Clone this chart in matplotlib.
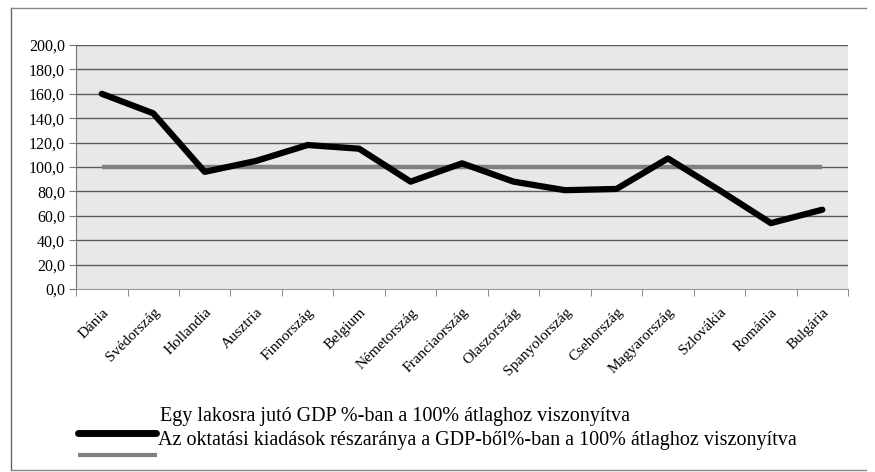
import numpy as np
import matplotlib
matplotlib.use('Agg')
import matplotlib.pyplot as plt
from matplotlib.lines import Line2D

plt.rcParams['font.family'] = ['Liberation Serif', 'DejaVu Serif']

orszagok = ['Dánia', 'Svédország', 'Hollandia', 'Ausztria', 'Finnország', 'Belgium',
            'Németország', 'Franciaország', 'Olaszország', 'Spanyolország', 'Csehország',
            'Magyarország', 'Szlovákia', 'Románia', 'Bulgária']
gdp = [160, 144, 96, 105, 118, 115, 88, 103, 88, 81, 82, 107, 81, 54, 65]
oktatas = [100] * len(orszagok)
yticks = [0, 20, 40, 60, 80, 100, 120, 140, 160, 180, 200]

fig = plt.figure(figsize=(8.75, 4.72), dpi=100)
ax = fig.add_axes([0.0869, 0.3877, 0.8823, 0.5170])
ax.set_facecolor('#e8e8e8')

x = np.arange(len(orszagok))
for v in yticks[1:]:
    ax.axhline(v, color='#5a5a5a', lw=1.0, zorder=1)
ax.plot(x, oktatas, color='#808080', lw=3.2, zorder=2, solid_capstyle='butt')
ax.plot(x, gdp, color='black', lw=4.5, zorder=3, solid_joinstyle='round', solid_capstyle='round')

ax.set_xlim(-0.5, len(orszagok) - 0.5)
ax.set_ylim(0, 200)
ax.set_yticks(yticks)
ax.set_yticklabels(['%d,0' % v for v in yticks], fontsize=11.5)
ax.set_xticks(x)
ax.set_xticklabels(orszagok, rotation=45, ha='right', rotation_mode='anchor', fontsize=11)
ax.set_xticks(np.arange(-0.5, len(orszagok)), minor=True)
ax.tick_params(axis='x', which='major', length=0, pad=12)
ax.tick_params(axis='x', which='minor', length=5, color='#777777', direction='out')
ax.tick_params(axis='y', length=5, color='#777777', direction='out', pad=3)
for s in ['top', 'right']:
    ax.spines[s].set_visible(False)
ax.spines['left'].set_color('#777777')
ax.spines['bottom'].set_color('#999999')

# keret
fig.add_artist(Line2D([0.012, 0.012], [0.005, 0.982], color='#666666', lw=1, transform=fig.transFigure))
fig.add_artist(Line2D([0.012, 0.99], [0.982, 0.982], color='#888888', lw=1, transform=fig.transFigure))
fig.add_artist(Line2D([0.012, 0.99], [0.005, 0.005], color='#888888', lw=1, transform=fig.transFigure))

# jelmagyarazat
fig.add_artist(Line2D([78 / 875, 156 / 875], [1 - 433 / 472] * 2, color='black', lw=5,
                      solid_capstyle='round', transform=fig.transFigure))
fig.add_artist(Line2D([78 / 875, 157 / 875], [1 - 455 / 472] * 2, color='#808080', lw=3,
                      solid_capstyle='butt', transform=fig.transFigure))
fig.text(160 / 875, 1 - 417 / 472, 'Egy lakosra jutó GDP %-ban a 100% átlaghoz viszonyítva',
         fontsize=14.5, va='center', ha='left')
fig.text(158 / 875, 1 - 440 / 472, 'Az oktatási kiadások részaránya a GDP-ből%-ban a 100% átlaghoz viszonyítva',
         fontsize=14.5, va='center', ha='left')

fig.savefig('out.png', dpi=100)
